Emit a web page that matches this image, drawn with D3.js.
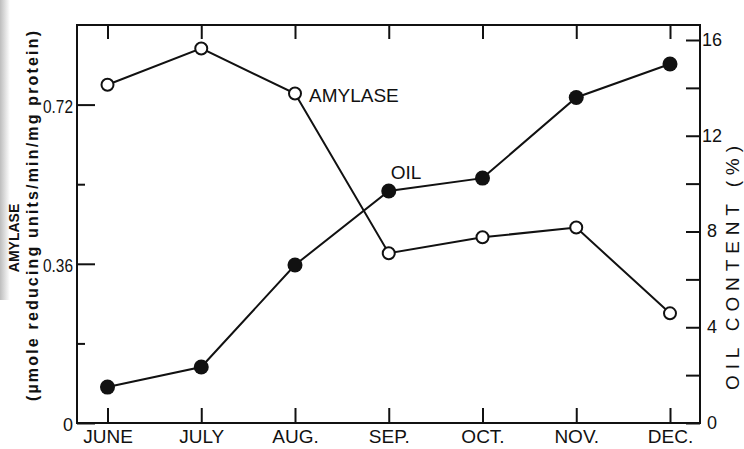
<!DOCTYPE html>
<html>
<head>
<meta charset="utf-8">
<script src="https://cdn.jsdelivr.net/npm/d3@7/dist/d3.min.js"></script>
<style>
  html, body { margin: 0; padding: 0; background: #fff; }
  svg { display: block; }
  text { font-family: "Liberation Sans", Arial, sans-serif; fill: #111; }
</style>
</head>
<body>
<script>
// ---- data ----
const months = ["JUNE", "JULY", "AUG.", "SEP.", "OCT.", "NOV.", "DEC."];
const amylase = [0.765, 0.847, 0.745, 0.384, 0.420, 0.442, 0.248]; // left axis
const oil = [1.5, 2.34, 6.6, 9.69, 10.23, 13.6, 15.0];              // right axis, %
const leftMajorTicks = [0, 0.36, 0.72];
const leftMinorTicks = [0.18, 0.54];
const rightTicks = [0, 2, 4, 6, 8, 10, 12, 14, 16];
const rightLabelled = [0, 4, 8, 12, 16];
const leftTitle1 = "AMYLASE";
const leftTitle2 = "(\u00b5mole reducing units/min/mg protein)";
const rightTitle = "OIL CONTENT (%)";
const seriesLabels = ["AMYLASE", "OIL"];

// ---- layout ----
const W = 744, H = 449;
const L = 77, R = 700, T = 25, B = 423;

const svg = d3.select("body").append("svg").attr("width", W).attr("height", H);

// faint scan shading at the left edge of the reference
const grad = svg.append("defs").append("linearGradient").attr("id", "scan")
  .attr("x1", 0).attr("x2", 1).attr("y1", 0).attr("y2", 0);
grad.append("stop").attr("offset", "0%").attr("stop-color", "#bdbdbd");
grad.append("stop").attr("offset", "100%").attr("stop-color", "#ffffff");
svg.append("rect").attr("x", 0).attr("y", 0).attr("width", 10).attr("height", 300)
  .attr("fill", "url(#scan)");

const x = d3.scalePoint().domain(months).range([107.5, 670]);
const yL = d3.scaleLinear().domain([0, 0.9]).range([B, T]);
const yR = d3.scaleLinear().domain([0, 16]).range([B, 40]);

const ink = "#111";

function styleAxis(g) {
  g.select(".domain").remove();
  g.selectAll(".tick line").attr("stroke", ink).attr("stroke-width", 2);
  g.selectAll("text").attr("fill", ink).attr("font-size", 18)
    .attr("font-family", '"Liberation Sans", Arial, sans-serif');
}

// bottom axis (ticks inward)
svg.append("g").attr("transform", `translate(0,${B})`)
  .call(d3.axisBottom(x).tickSize(-15).tickPadding(7))
  .call(styleAxis)
  .call(g => g.selectAll("text").attr("font-size", 19));

// top axis ticks
svg.append("g").attr("transform", `translate(0,${T})`)
  .call(d3.axisTop(x).tickSize(-14).tickFormat(""))
  .call(styleAxis);

// left axis major
svg.append("g").attr("transform", `translate(${L},0)`)
  .call(d3.axisLeft(yL).tickValues(leftMajorTicks).tickSize(-18).tickPadding(4)
    .tickFormat(d => d === 0 ? "0" : d3.format(".2f")(d)))
  .call(styleAxis)
  .call(g => g.selectAll("text").attr("dy", "0.42em")
    .filter(d => d !== 0).attr("textLength", 30).attr("lengthAdjust", "spacingAndGlyphs"));

// left axis minor
svg.append("g").attr("transform", `translate(${L},0)`)
  .call(d3.axisLeft(yL).tickValues(leftMinorTicks).tickSize(-8).tickFormat(""))
  .call(styleAxis);

// right axis
svg.append("g").attr("transform", `translate(${R},0)`)
  .call(d3.axisRight(yR).tickValues(rightTicks).tickSize(-14).tickPadding(12)
    .tickFormat(d => rightLabelled.includes(d) ? String(d) : ""))
  .call(styleAxis)
  .call(g => g.selectAll("text").attr("text-anchor", "middle").attr("dy", "0.3em"));

// frame
svg.append("rect").attr("x", L).attr("y", T).attr("width", R - L).attr("height", B - T)
  .attr("fill", "none").attr("stroke", ink).attr("stroke-width", 2);

// lines
const lineL = d3.line().x((d, i) => x(months[i])).y(d => yL(d));
const lineR = d3.line().x((d, i) => x(months[i])).y(d => yR(d));

svg.append("path").datum(amylase).attr("d", lineL)
  .attr("fill", "none").attr("stroke", ink).attr("stroke-width", 2);
svg.append("path").datum(oil).attr("d", lineR)
  .attr("fill", "none").attr("stroke", ink).attr("stroke-width", 2);

svg.append("g").selectAll("circle").data(amylase).join("circle")
  .attr("cx", (d, i) => x(months[i])).attr("cy", d => yL(d)).attr("r", 6)
  .attr("fill", "#fff").attr("stroke", ink).attr("stroke-width", 2);

svg.append("g").selectAll("circle").data(oil).join("circle")
  .attr("cx", (d, i) => x(months[i])).attr("cy", d => yR(d)).attr("r", 7.5)
  .attr("fill", ink);

// series labels anchored to points
svg.append("text").attr("x", x(months[2]) + 14).attr("y", yL(amylase[2]) + 8)
  .attr("font-size", 19).text(seriesLabels[0]);
svg.append("text").attr("x", x(months[3]) + 2).attr("y", yR(oil[3]) - 12)
  .attr("font-size", 19).text(seriesLabels[1]);

// axis titles
svg.append("text").attr("transform", "translate(19,238) rotate(-90)")
  .attr("text-anchor", "middle").attr("font-size", 14).attr("font-weight", "bold")
  .text(leftTitle1);
svg.append("text").attr("transform", "translate(38,216) rotate(-90)")
  .attr("text-anchor", "middle").attr("font-size", 16).attr("font-weight", "bold")
  .attr("textLength", 370).attr("lengthAdjust", "spacing")
  .text(leftTitle2);
svg.append("text").attr("transform", "translate(739,268) rotate(-90)")
  .attr("text-anchor", "middle").attr("font-size", 19)
  .attr("textLength", 244).attr("lengthAdjust", "spacing")
  .text(rightTitle);
</script>
</body>
</html>
